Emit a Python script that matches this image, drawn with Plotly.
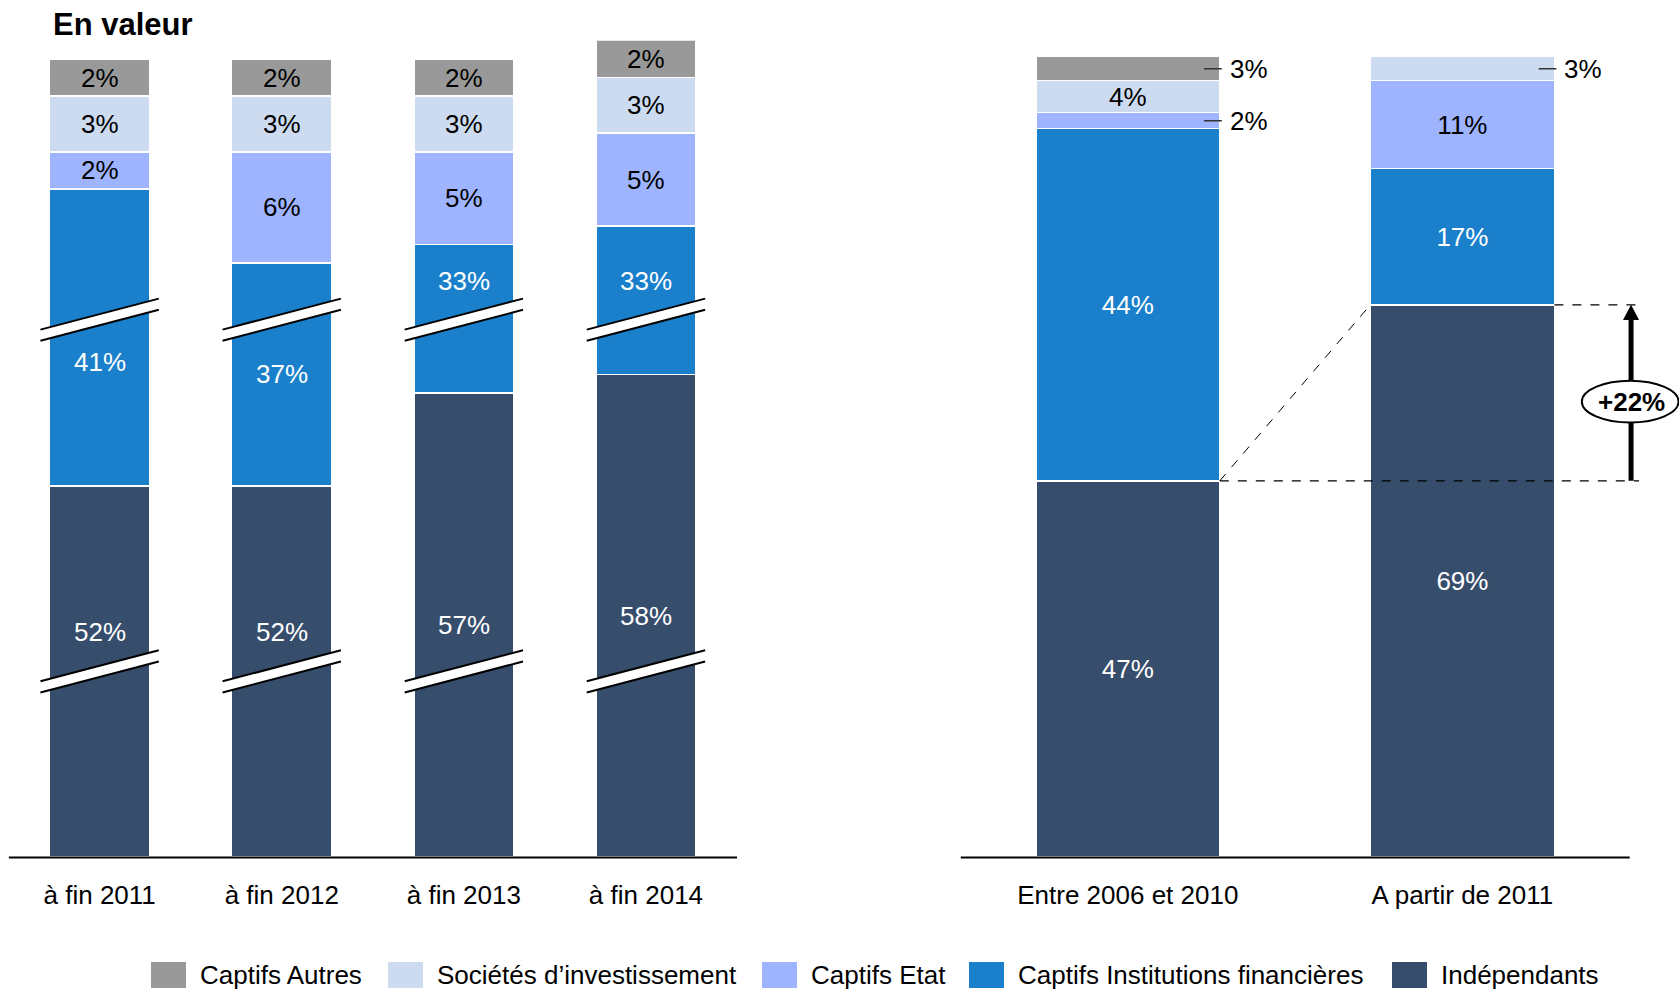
import plotly.graph_objects as go

W, H = 1679, 990
FONT = "Liberation Sans, Arial, Helvetica, sans-serif"

# Series, bottom to top of each stack
SERIES = ["Indépendants", "Captifs Institutions financières", "Captifs Etat",
          "Sociétés d’investissement", "Captifs Autres"]
COLORS = ["#374d6c", "#1a80cb", "#9eb4ff", "#ccdbf0", "#999999"]
TEXT_COLORS = ["white", "white", "black", "black", "black"]

# Left panel: stock at year end
PERIODS_LEFT = ["à fin 2011", "à fin 2012", "à fin 2013", "à fin 2014"]
LEFT_IND = [52, 52, 57, 58]
LEFT_IF = [41, 37, 33, 33]
LEFT_ETAT = [2, 6, 5, 5]
LEFT_SOC = [3, 3, 3, 3]
LEFT_AUTRES = [2, 2, 2, 2]

# Right panel: by creation period
PERIODS_RIGHT = ["Entre 2006 et 2010", "A partir de 2011"]
RIGHT_IND = [47, 69]
RIGHT_IF = [44, 17]
RIGHT_ETAT = [2, 11]
RIGHT_SOC = [4, 3]
RIGHT_AUTRES = [3, 0]

LEFT_VALUES = [LEFT_IND, LEFT_IF, LEFT_ETAT, LEFT_SOC, LEFT_AUTRES]
RIGHT_VALUES = [RIGHT_IND, RIGHT_IF, RIGHT_ETAT, RIGHT_SOC, RIGHT_AUTRES]

# Broken axis on the left panel: amount removed from each series
LEFT_BREAK_CUT = [32, 25, 0, 0, 0]
LEFT_BREAK_LEVELS = [10.0, 28.95]  # display units where the break marks sit

BAR_W = 0.55


def px_x(p):
    return p / W


def px_y(p):
    return 1 - p / H


fig = go.Figure()

# ---- left panel (broken scale)
left_display = [[v - cut for v in vals] for vals, cut in zip(LEFT_VALUES, LEFT_BREAK_CUT)]
for name, col, disp, vals in zip(SERIES, COLORS, left_display, LEFT_VALUES):
    fig.add_trace(go.Bar(
        x=list(range(len(PERIODS_LEFT))), y=disp, name=name, width=BAR_W,
        marker=dict(color=col, line=dict(color="white", width=1.5)),
        customdata=vals, hovertemplate="%{customdata}%<extra>" + name + "</extra>",
        showlegend=False, xaxis="x", yaxis="y",
    ))

annotations = []
shapes = []

for i in range(len(PERIODS_LEFT)):
    base = 0
    for k in range(len(SERIES)):
        h = left_display[k][i]
        center = base + h / 2
        for b in LEFT_BREAK_LEVELS:
            if base < b < base + h and abs(center - b) < 2.2:
                center = b + 2.1 if center >= b else b - 2.3
        annotations.append(dict(
            x=i, y=center, xref="x", yref="y", text=f"{LEFT_VALUES[k][i]}%",
            showarrow=False, font=dict(family=FONT, size=26, color=TEXT_COLORS[k]),
        ))
        base += h

# break marks
half = 0.325
slope = 0.835
thick = 0.3
for i in range(len(PERIODS_LEFT)):
    x0, x1 = i - half, i + half
    for b in LEFT_BREAK_LEVELS:
        shapes.append(dict(
            type="path", xref="x", yref="y", layer="above",
            path=f"M {x0},{b - slope + thick} L {x1},{b + slope + thick} "
                 f"L {x1},{b + slope - thick} L {x0},{b - slope - thick} Z",
            fillcolor="white", line=dict(width=0),
        ))
        for t in (thick, -thick):
            shapes.append(dict(
                type="line", xref="x", yref="y", layer="above",
                x0=x0, y0=b - slope + t, x1=x1, y1=b + slope + t,
                line=dict(color="black", width=2),
            ))

# ---- right panel (linear scale)
for k, (name, col, vals) in enumerate(zip(SERIES, COLORS, RIGHT_VALUES)):
    fig.add_trace(go.Bar(
        x=list(range(len(PERIODS_RIGHT))), y=vals, name=name, width=BAR_W,
        text=[f"{v}%" if v >= 4 else "" for v in vals],
        textposition="inside", insidetextanchor="middle",
        insidetextfont=dict(family=FONT, size=26, color=TEXT_COLORS[k]),
        marker=dict(color=col, line=dict(color="white", width=1.5)),
        hovertemplate="%{y}%<extra>" + name + "</extra>",
        showlegend=False, xaxis="x2", yaxis="y2",
    ))

# small segments labelled beside the bar with a leader line
for i in range(len(PERIODS_RIGHT)):
    base = 0
    for k in range(len(SERIES)):
        v = RIGHT_VALUES[k][i]
        if 0 < v < 4:
            yc = base + v / 2
            edge = i + BAR_W / 2
            shapes.append(dict(
                type="line", xref="x2", yref="y2", layer="above",
                x0=edge - 0.047, x1=edge + 0.006, y0=yc, y1=yc,
                line=dict(color="#333333", width=1.5),
            ))
            annotations.append(dict(
                x=edge + 0.024, y=yc, xref="x2", yref="y2", text=f"{v}%",
                xanchor="left", yanchor="middle", showarrow=False,
                font=dict(family=FONT, size=26, color="black"),
            ))
        base += v

# growth of the independents between the two periods
ind_a, ind_b = RIGHT_IND
edge_a = 0 + BAR_W / 2
edge_b_left = 1 - BAR_W / 2
edge_b_right = 1 + BAR_W / 2
x_end = 1.528
x_arrow = 1.504
dash = dict(color="black", width=1.2, dash="dash")
shapes += [
    dict(type="line", xref="x2", yref="y2", layer="above",
         x0=edge_a, y0=ind_a, x1=x_end, y1=ind_a, line=dash),
    dict(type="line", xref="x2", yref="y2", layer="above",
         x0=edge_b_right, y0=ind_b, x1=x_end, y1=ind_b, line=dash),
    dict(type="line", xref="x2", yref="y2", layer="above",
         x0=edge_a, y0=ind_a, x1=edge_b_left, y1=ind_b,
         line=dict(color="black", width=1, dash="dash")),
    # arrow shaft and head
    dict(type="line", xref="x2", yref="y2", layer="above",
         x0=x_arrow, y0=ind_a, x1=x_arrow, y1=ind_b - 1.5,
         line=dict(color="black", width=5)),
    dict(type="path", xref="x2", yref="y2", layer="above",
         path=f"M {x_arrow - 0.024},{ind_b - 1.9} L {x_arrow + 0.024},{ind_b - 1.9} "
              f"L {x_arrow},{ind_b} Z",
         fillcolor="black", line=dict(width=0)),
]
mid = (ind_a + ind_b) / 2 - 1.1
shapes.append(dict(
    type="circle", xref="x2", yref="y2", layer="above",
    x0=x_arrow - 0.147, x1=x_arrow + 0.142, y0=mid - 2.6, y1=mid + 2.6,
    fillcolor="white", line=dict(color="black", width=2),
))
annotations.append(dict(
    x=x_arrow, y=mid, xref="x2", yref="y2", text=f"<b>+{ind_b - ind_a}%</b>",
    showarrow=False, font=dict(family=FONT, size=26, color="black"),
))

# baselines
shapes.append(dict(type="line", xref="x", yref="paper", x0=-0.5, x1=3.5,
                   y0=px_y(857.5), y1=px_y(857.5), line=dict(color="black", width=2)))
shapes.append(dict(type="line", xref="x2", yref="paper", x0=-0.5, x1=1.5,
                   y0=px_y(857.5), y1=px_y(857.5), line=dict(color="black", width=2)))

# title
annotations.append(dict(
    x=px_x(51), y=px_y(24), xref="paper", yref="paper", xanchor="left",
    yanchor="middle", text="<b>En valeur</b>", showarrow=False,
    font=dict(family=FONT, size=31, color="black"),
))

# legend, drawn in reverse stacking order
LEGEND_X = [151, 388, 762, 969, 1392]
for lx, k in zip(LEGEND_X, reversed(range(len(SERIES)))):
    shapes.append(dict(
        type="rect", xref="paper", yref="paper",
        x0=px_x(lx), x1=px_x(lx + 35), y0=px_y(988), y1=px_y(962),
        fillcolor=COLORS[k], line=dict(width=0),
    ))
    annotations.append(dict(
        x=px_x(lx + 47), y=px_y(975), xref="paper", yref="paper",
        xanchor="left", yanchor="middle", text=SERIES[k], showarrow=False,
        font=dict(family=FONT, size=26, color="black"),
    ))

px_per_unit_right = (1629.7 - 960.5) / 2
right_max = -0.5 + (W - 960.5) / px_per_unit_right

axis_common = dict(showgrid=False, zeroline=False, ticks="", showline=False,
                   tickfont=dict(family=FONT, size=26, color="black"),
                   ticklabelstandoff=20, fixedrange=True)

fig.update_layout(
    width=W, height=H, autosize=False,
    margin=dict(l=0, r=0, t=0, b=0),
    paper_bgcolor="white", plot_bgcolor="white",
    barmode="stack", showlegend=False,
    uniformtext=dict(minsize=26, mode="show"),
    xaxis=dict(domain=[px_x(8.6), px_x(737)], range=[-0.5, 3.5],
               tickvals=list(range(len(PERIODS_LEFT))), ticktext=PERIODS_LEFT,
               anchor="y", **axis_common),
    yaxis=dict(domain=[px_y(857), px_y(40.4)], range=[0, 44], visible=False,
               anchor="x", fixedrange=True),
    xaxis2=dict(domain=[px_x(960.5), 1.0], range=[-0.5, right_max],
                tickvals=list(range(len(PERIODS_RIGHT))), ticktext=PERIODS_RIGHT,
                anchor="y2", **axis_common),
    yaxis2=dict(domain=[px_y(857), px_y(56.7)], range=[0, 100], visible=False,
                anchor="x2", fixedrange=True),
    shapes=shapes,
    annotations=annotations,
)

fig.write_html("out.html")
